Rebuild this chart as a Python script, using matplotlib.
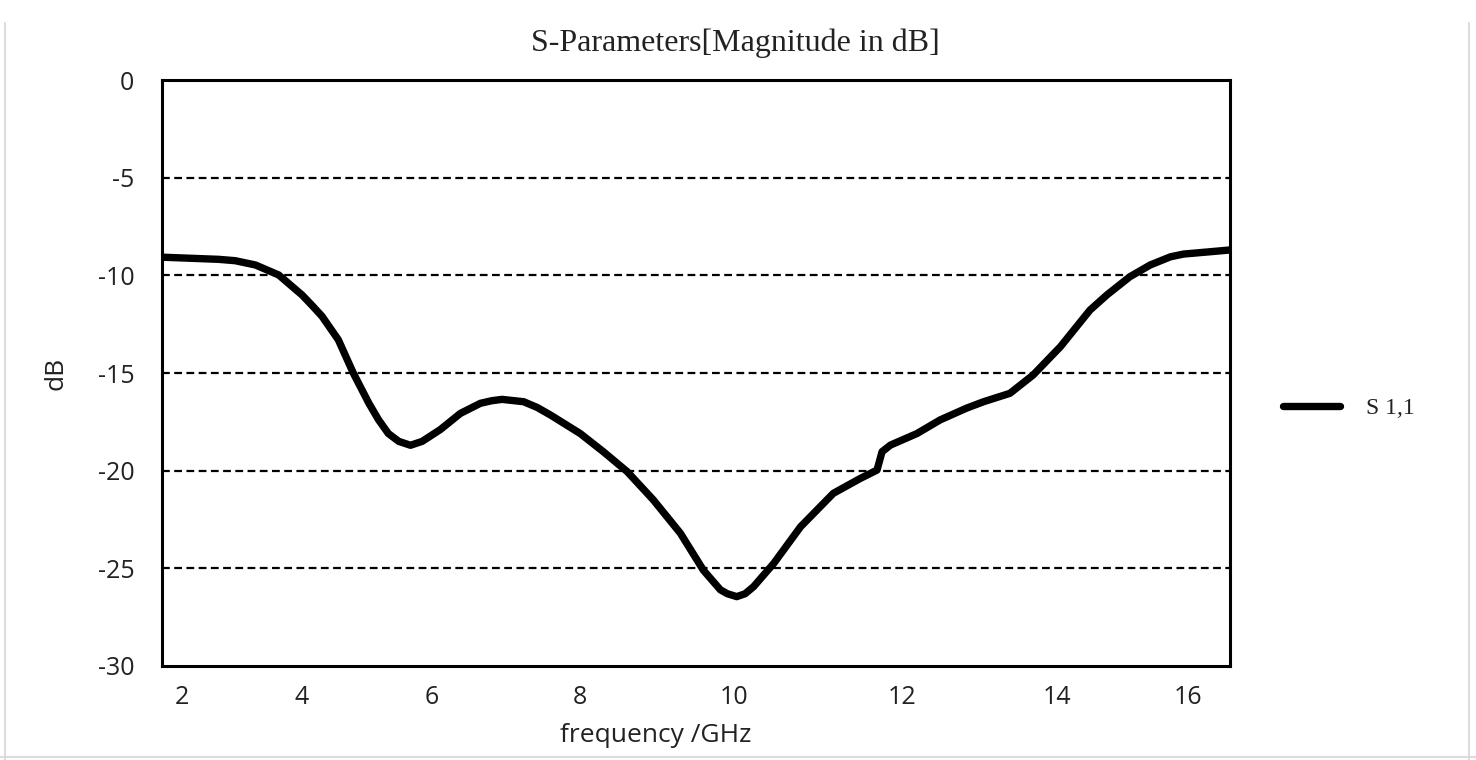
import numpy as np
import matplotlib

matplotlib.use("Agg")

import matplotlib.pyplot as plt
from matplotlib.lines import Line2D

# measured S11 (frequency in GHz, magnitude in dB)
freq_ghz = [1.66, 2.61, 2.89, 3.23, 3.62, 4.01, 4.16, 4.32, 4.57, 4.80,
            5.04, 5.19, 5.34, 5.50, 5.68, 5.86, 6.12, 6.39, 6.66, 6.81,
            6.95, 7.24, 7.42, 7.60, 8.00, 8.30, 8.61, 8.95, 9.30, 9.60,
            9.82, 9.91, 10.03, 10.13, 10.23, 10.47, 10.79, 11.18, 11.50, 11.70,
            11.76, 11.86, 12.19, 12.49, 12.83, 13.05, 13.39, 13.69, 14.05, 14.50,
            14.76, 15.11, 15.42, 15.73, 15.93, 16.34, 16.64]
s11_db = [-9.07, -9.18, -9.25, -9.47, -9.98, -11.0, -11.52, -12.1, -13.3, -15.0,
          -16.55, -17.4, -18.1, -18.5, -18.7, -18.5, -17.9, -17.07, -16.55, -16.42,
          -16.35, -16.47, -16.76, -17.15, -18.1, -19.03, -20.05, -21.5, -23.2, -25.1,
          -26.1, -26.3, -26.45, -26.3, -25.94, -24.75, -22.87, -21.16, -20.4, -19.97,
          -19.03, -18.69, -18.1, -17.4, -16.8, -16.47, -16.04, -15.1, -13.65, -11.78,
          -11.0, -10.07, -9.47, -9.05, -8.91, -8.79, -8.7]

x_ticks = [2, 4, 6, 8, 10, 12, 14, 16]
y_ticks = [0, -5, -10, -15, -20, -25, -30]

# the original axis is a category axis: tick spacing is uneven
axis_anchor_ghz = [0.0, 2, 4, 6, 8, 10, 12, 14, 16, 20.0]
axis_anchor_pos = [63.0, 182, 301, 431, 580, 734, 902, 1057, 1188, 1450.0]


def fwd(v):
    return np.interp(v, axis_anchor_ghz, axis_anchor_pos)


def inv(v):
    return np.interp(v, axis_anchor_pos, axis_anchor_ghz)


SANS = ["Open Sans", "DejaVu Sans"]
SERIF = ["Liberation Serif", "DejaVu Serif"]
TEXT = "#222222"

fig = plt.figure(figsize=(14.76, 7.6), dpi=100)
fig.patch.set_facecolor("white")
# faint page edges (left, right, bottom)
for xs, ys in (([0.0037, 0.0037], [0.0, 0.97]),
               ([0.9953, 0.9953], [0.0, 0.97]),
               ([0.0, 1.0], [0.004, 0.004])):
    fig.add_artist(Line2D(xs, ys, transform=fig.transFigure, color="#dcdcdc", linewidth=1.5))

ax = fig.add_axes([0.1098, 0.1237, 0.7236, 0.771])
ax.set_xscale("function", functions=(fwd, inv))

ax.plot(freq_ghz, s11_db, color="black", linewidth=5.3, solid_capstyle="round",
        solid_joinstyle="round", label="S 1,1")

ax.set_xlim(1.66, 16.64)
ax.set_ylim(-30, 0)
ax.set_xticks(x_ticks)
ax.set_xticklabels([str(t) for t in x_ticks])
ax.set_yticks(y_ticks)
ax.set_yticklabels([str(t) for t in y_ticks])
ax.xaxis.set_minor_locator(matplotlib.ticker.NullLocator())

for t in y_ticks[1:-1]:
    ax.axhline(t, color="black", linewidth=1.6, linestyle=(0, (3.5, 2)), zorder=1)

for s in ax.spines.values():
    s.set_color("black")
    s.set_linewidth(2.2)

ax.tick_params(length=0, labelsize=18, colors=TEXT)
ax.tick_params(axis="y", pad=20)
ax.tick_params(axis="x", pad=14)
for lab in ax.get_xticklabels() + ax.get_yticklabels():
    lab.set_family(SANS)

ax.set_xlabel("frequency /GHz", fontsize=19, family=SANS, color=TEXT)
ax.xaxis.set_label_coords(0.462, -0.098)
ax.set_ylabel("dB", fontsize=19, family=SANS, color=TEXT)
ax.yaxis.set_label_coords(-0.088, 0.5)

fig.text(0.498, 0.943, "S-Parameters[Magnitude in dB]", ha="center", va="center",
         fontsize=23, family=SERIF, color=TEXT)

leg = ax.legend(loc="center left", bbox_to_anchor=(1.03, 0.44), frameon=False,
                prop={"family": SERIF, "size": 17}, handlelength=2.4, handletextpad=1.1)
for t in leg.get_texts():
    t.set_color(TEXT)

fig.savefig("out.png", dpi=100, facecolor="white")
